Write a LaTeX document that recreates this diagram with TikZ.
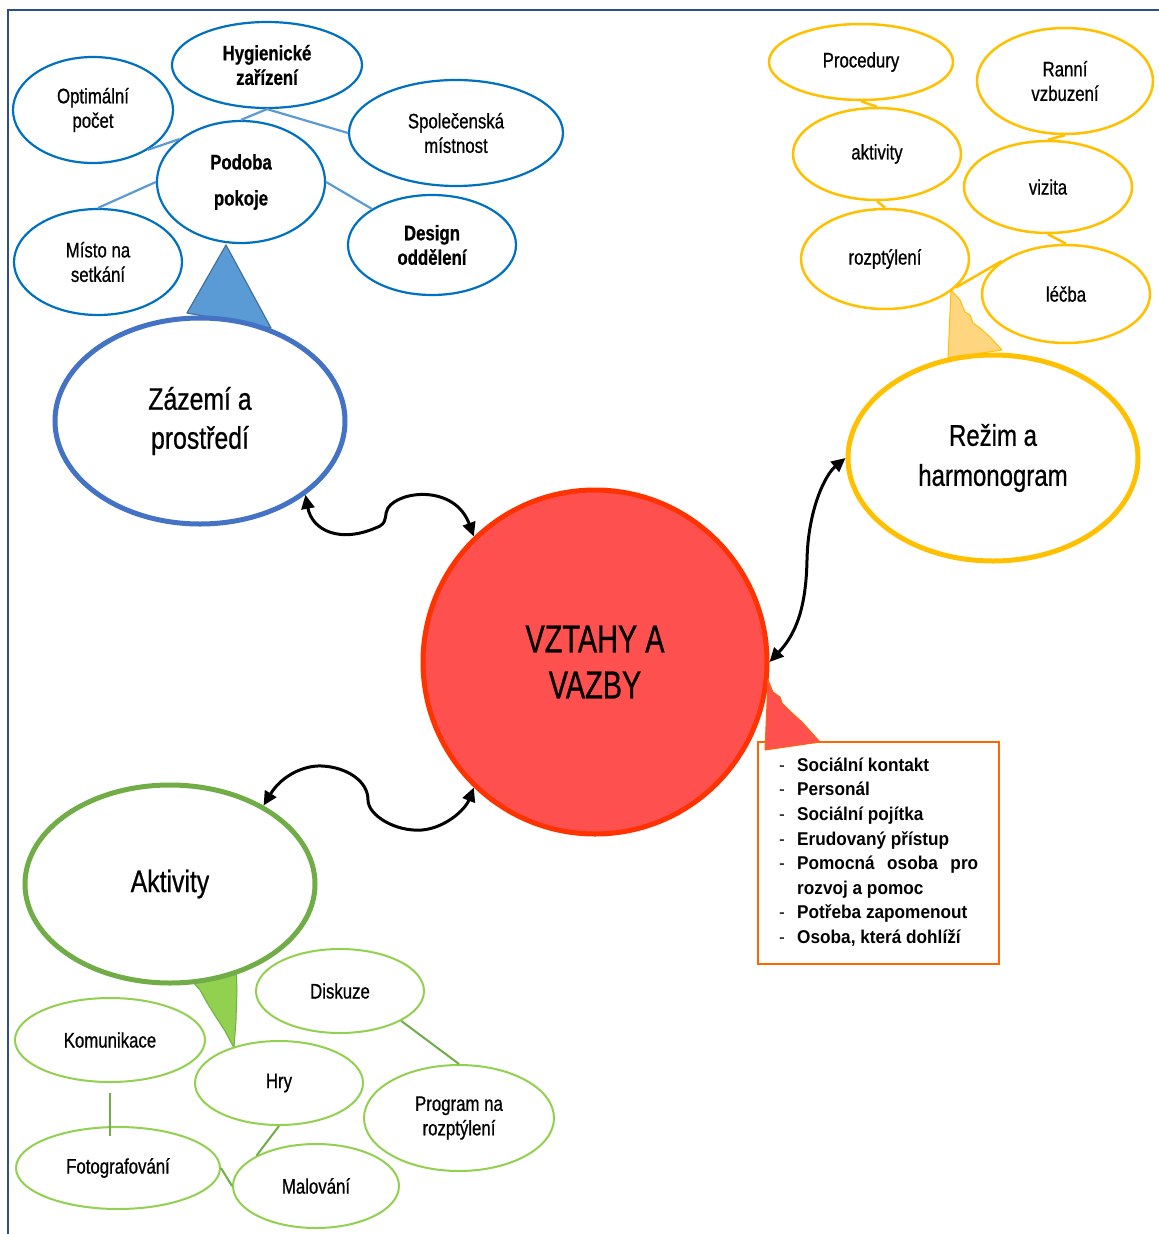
\documentclass[tikz,border=0pt]{standalone}
\usepackage{fontspec}
\setmainfont{Liberation Sans}[FakeStretch=0.8, FakeBold=0.7]
\newfontfamily\bigfont{Liberation Sans}[FakeStretch=0.74, FakeBold=0.7]
\newfontfamily\listfont{Liberation Sans}[FakeStretch=0.93]
\usetikzlibrary{shapes.geometric,arrows.meta}
\definecolor{frameblue}{HTML}{2F4C8C}
\definecolor{sblue}{HTML}{0070C0}
\definecolor{bigblue}{HTML}{4472C4}
\definecolor{lineblue}{HTML}{5B9BD5}
\definecolor{triblue}{HTML}{5B9BD5}
\definecolor{tridark}{HTML}{41719C}
\definecolor{gold}{HTML}{FFC000}
\definecolor{lightgold}{HTML}{FFD580}
\definecolor{sgreen}{HTML}{92D050}
\definecolor{dgreen}{HTML}{70AD47}
\definecolor{redfill}{HTML}{FF5050}
\definecolor{redline}{HTML}{FF3300}
\definecolor{orangeline}{HTML}{FF6600}
\tikzset{
  oval/.style={ellipse, draw, fill=white, inner sep=0pt, align=center, font=\fontsize{21}{24.5}\selectfont},
  bluesmall/.style={oval, draw=sblue, line width=2.2pt},
  goldsmall/.style={oval, draw=gold, line width=2.5pt},
  greensmall/.style={oval, draw=sgreen, line width=2pt},
  bigoval/.style={oval, line width=5pt, font=\fontsize{31}{39}\selectfont},
  blueline/.style={draw=lineblue, line width=2.2pt},
  goldline/.style={draw=gold, line width=2.5pt},
  greenline/.style={draw=dgreen, line width=2pt},
  biarrow/.style={{Triangle[length=14pt,width=13pt]}-{Triangle[length=14pt,width=13pt]}, line width=3pt, black},
  bubble/.style={line width=1pt, line join=round}
}
\begin{document}
\begin{tikzpicture}[x=1pt,y=-1pt]
\useasboundingbox (0,0) rectangle (1159,1234);
\fill[white] (0,0) rectangle (1159,1234);
% frame
\draw[frameblue, line width=1.5pt] (8,1234) -- (8,10) -- (1159,10);

% callout triangles (under the big ellipses)
\draw[bubble, fill=triblue, draw=tridark, line width=1.2pt] (226,245) -- (187,313) -- (271,328) -- cycle;
\draw[bubble, fill=lightgold, draw=gold] (951,290) -- (960,300) -- (965,312) -- (970,315) -- (973,323) -- (980,328) -- (990,337) -- (1002,350) -- (948,358) -- cycle;
\draw[bubble, fill=sgreen, draw=dgreen] (191,980) -- (200,990) -- (206,1001) -- (214,1014) -- (225,1031) -- (234,1048) -- (236,1020) -- (237,990) -- (236,966) -- (215,968) -- cycle;

% blue group
\node[bluesmall, minimum width=190pt, minimum height=86pt, font=\bfseries\fontsize{21}{24.5}\selectfont] (hyg) at (267,65) {Hygienické\\zařízení};
\node[bluesmall, minimum width=160pt, minimum height=106pt] (opt) at (93,110) {Optimální\\počet};
\node[bluesmall, minimum width=214pt, minimum height=106pt] (spol) at (456,133) {Společenská\\místnost};
\node[bluesmall, minimum width=168pt, minimum height=122pt, font=\bfseries\fontsize{21}{36}\selectfont] (pod) at (241,182) {Podoba\\pokoje};
\node[bluesmall, minimum width=168pt, minimum height=106pt] (mist) at (98,262) {Místo na\\setkání};
\node[bluesmall, minimum width=168pt, minimum height=100pt, font=\bfseries\fontsize{21}{24.5}\selectfont] (des) at (432,245) {Design\\oddělení};
\node[bigoval, draw=bigblue, minimum width=290pt, minimum height=206pt] (zaz) at (200,421) {Zázemí a\\prostředí};

% gold group
\node[goldsmall, minimum width=184pt, minimum height=76pt] (proc) at (861,62) {Procedury};
\node[goldsmall, minimum width=176pt, minimum height=106pt] (ranni) at (1065,81) {Ranní\\vzbuzení};
\node[goldsmall, minimum width=168pt, minimum height=92pt] (akti) at (877,154) {aktivity};
\node[goldsmall, minimum width=168pt, minimum height=92pt] (viz) at (1048,187) {vizita};
\node[goldsmall, minimum width=168pt, minimum height=100pt] (roz) at (885,259) {rozptýlení};
\node[goldsmall, minimum width=168pt, minimum height=98pt] (lec) at (1066,294) {léčba};
\node[bigoval, draw=gold, minimum width=290pt, minimum height=206pt, font=\fontsize{30}{40}\selectfont] (rez) at (993,458) {Režim a\\harmonogram};

% green group
\node[bigoval, draw=dgreen, minimum width=290pt, minimum height=198pt] (aktv) at (170,884) {Aktivity};
\node[greensmall, minimum width=168pt, minimum height=84pt] (disk) at (340,991) {Diskuze};
\node[greensmall, minimum width=190pt, minimum height=84pt] (kom) at (110,1040) {Komunikace};
\node[greensmall, minimum width=168pt, minimum height=84pt] (hry) at (279,1083) {Hry};
\node[greensmall, minimum width=190pt, minimum height=106pt] (prog) at (459,1118) {Program na\\rozptýlení};
\node[greensmall, minimum width=204pt, minimum height=82pt] (foto) at (118,1168) {Fotografování};
\node[greensmall, minimum width=166pt, minimum height=84pt] (mal) at (316,1186) {Malování};

% centre
\node[circle, draw=redline, fill=redfill, line width=5pt, minimum size=344pt, inner sep=0pt, align=center, font=\bigfont\fontsize{39}{46}\selectfont] (vz) at (595,662) {VZTAHY A\\VAZBY};

% list box and its callout
\node[rectangle, draw=orangeline, fill=white, line width=1.5pt, minimum width=241pt, minimum height=222pt, inner sep=0pt] (box) at (878.5,853) {};
\draw[bubble, fill=redfill, draw=orangeline] (768,680) -- (773,692) -- (780,697) -- (782,703) -- (787,708) -- (792,713) -- (802,722) -- (820,742) -- (765,750) -- cycle;
\node[anchor=west, align=left, inner sep=0pt, font=\listfont\fontsize{18.5}{24.6}\selectfont\bfseries] (lst) at (779,852) {%
\makebox[18pt][l]{\mdseries -}Sociální kontakt\\
\makebox[18pt][l]{\mdseries -}Personál\\
\makebox[18pt][l]{\mdseries -}Sociální pojítka\\
\makebox[18pt][l]{\mdseries -}Erudovaný přístup\\
\makebox[18pt][l]{\mdseries -}\makebox[181pt][s]{Pomocná osoba pro}\\
\hspace*{18pt}rozvoj a pomoc\\
\makebox[18pt][l]{\mdseries -}Potřeba zapomenout\\
\makebox[18pt][l]{\mdseries -}Osoba, která dohlíží};

% blue connectors
\draw[blueline] (hyg.south) -- (pod.north);
\draw[blueline] (hyg.south) -- (spol.west);
\draw[blueline] (opt.-36) -- (pod.145);
\draw[blueline] (pod.west) -- (mist.north);
\draw[blueline] (pod.east) -- (des.149);

% gold connectors
\draw[goldline] (proc.south) -- (akti.north);
\draw[goldline] (akti.south) -- (roz.north);
\draw[goldline] (ranni.south) -- (viz.north);
\draw[goldline] (viz.south) -- (lec.north);
\draw[goldline] (roz.-22) -- (lec.153);

% green connectors
\draw[greenline] ([yshift=-10pt]kom.south) -- ([yshift=-10pt]kom.south |- foto.north);
\draw[greenline] (disk.-26) -- (prog.north);
\draw[greenline] (hry.south) -- (mal.153);
\draw[greenline] (foto.east) -- (mal.west);

% curved double arrows
\draw[biarrow] (zaz.-35) .. controls (312,530) and (340,545) .. (380,526)
  .. controls (388,521) and (384,514) .. (388,508)
  .. controls (400,490) and (455,485) .. (vz.134);
\draw[biarrow] (aktv.40) .. controls (282,775) and (305,765) .. (322,766)
  .. controls (345,767) and (368,780) .. (368,800)
  .. controls (368,815) and (395,832) .. (422,830)
  .. controls (445,828) and (465,810) .. (vz.-134);
\draw[biarrow] (vz.east) .. controls (795,635) and (806,610) .. (807,560)
  .. controls (808,510) and (825,475) .. (rez.west);
\end{tikzpicture}
\end{document}
